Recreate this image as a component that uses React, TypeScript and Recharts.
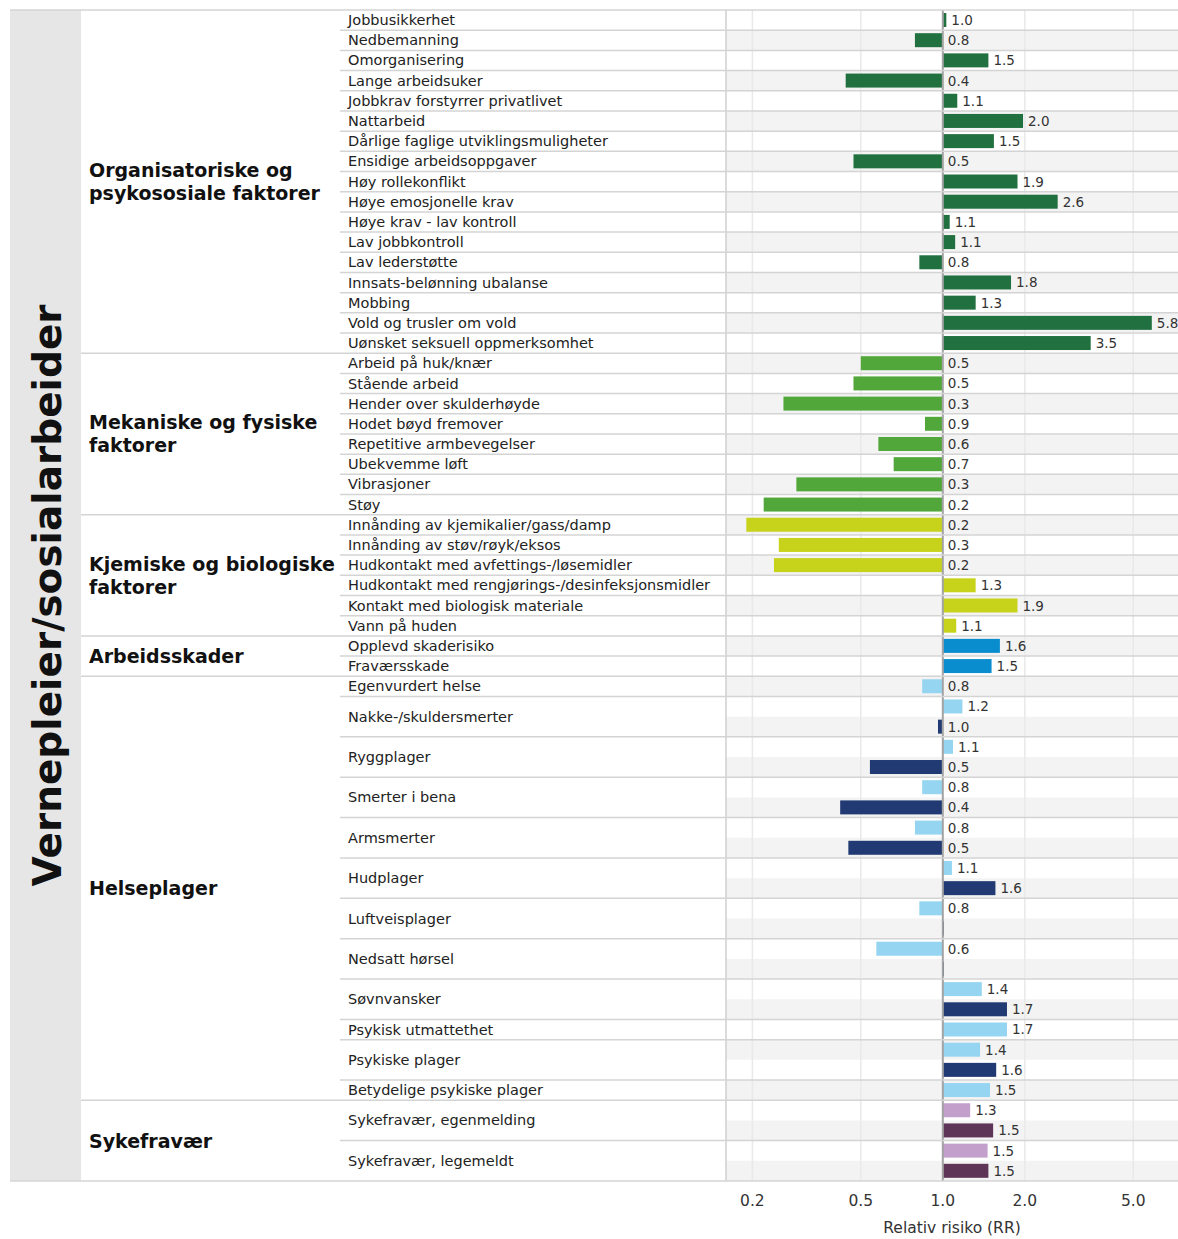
import React from 'react';
import { BarChart, Bar, XAxis, YAxis, ReferenceArea, ReferenceLine } from 'recharts';

// Group headings (split into lines as in the original)
const groupTitles = [
    ['Organisatoriske og', 'psykososiale faktorer'],
    ['Mekaniske og fysiske', 'faktorer'],
    ['Kjemiske og biologiske', 'faktorer'],
    ['Arbeidsskader'],
    ['Helseplager'],
    ['Sykefravær'],
];

const orgLabels = [
    'Jobbusikkerhet', 'Nedbemanning', 'Omorganisering', 'Lange arbeidsuker',
    'Jobbkrav forstyrrer privatlivet', 'Nattarbeid', 'Dårlige faglige utviklingsmuligheter',
    'Ensidige arbeidsoppgaver', 'Høy rollekonflikt', 'Høye emosjonelle krav',
    'Høye krav - lav kontroll', 'Lav jobbkontroll', 'Lav lederstøtte',
    'Innsats-belønning ubalanse', 'Mobbing', 'Vold og trusler om vold',
    'Uønsket seksuell oppmerksomhet',
];
const orgRR = [1.03, 0.79, 1.47, 0.44, 1.13, 1.97, 1.54, 0.47, 1.88, 2.64, 1.06, 1.11, 0.82, 1.78, 1.32, 5.85, 3.49];

const mekLabels = [
    'Arbeid på huk/knær', 'Stående arbeid', 'Hender over skulderhøyde', 'Hodet bøyd fremover',
    'Repetitive armbevegelser', 'Ubekvemme løft', 'Vibrasjoner', 'Støy',
];
const mekRR = [0.5, 0.47, 0.26, 0.86, 0.58, 0.66, 0.29, 0.22];

const kjemLabels = [
    'Innånding av kjemikalier/gass/damp', 'Innånding av støv/røyk/eksos',
    'Hudkontakt med avfettings-/løsemidler', 'Hudkontakt med rengjørings-/desinfeksjonsmidler',
    'Kontakt med biologisk materiale', 'Vann på huden',
];
const kjemRR = [0.19, 0.25, 0.24, 1.32, 1.88, 1.12];

const skadeLabels = ['Opplevd skaderisiko', 'Fraværsskade'];
const skadeRR = [1.62, 1.51];

const helseLabels = [
    'Egenvurdert helse', 'Nakke-/skuldersmerter', 'Ryggplager', 'Smerter i bena', 'Armsmerter',
    'Hudplager', 'Luftveisplager', 'Nedsatt hørsel', 'Søvnvansker', 'Psykisk utmattethet',
    'Psykiske plager', 'Betydelige psykiske plager',
];
const helseRR = [0.84, 1.18, 1.09, 0.84, 0.79, 1.08, 0.82, 0.57, 1.39, 1.72, 1.37, 1.49];
const helseRR2 = [null, 0.96, 0.54, 0.42, 0.45, 1.56, 1.01, 1.01, 1.72, null, 1.57, null];

const sykLabels = ['Sykefravær, egenmelding', 'Sykefravær, legemeldt'];
const sykRR = [1.26, 1.46];
const sykRR2 = [1.53, 1.47];

// second bars shown without a printed value
const noValueLabel = ['Luftveisplager', 'Nedsatt hørsel'];

const xTicks = [0.2, 0.5, 1, 2, 5];

const colors = ['#21703f', '#52a73a', '#c7d31a', '#0a8dce', '#95d5f1', '#c3a0cb'];
const colors2 = ['#21703f', '#52a73a', '#c7d31a', '#0a8dce', '#213a73', '#5e3556'];

// Layout
const W = 1178;
const H = 1239;
const TOP = 10;
const AXIS_H = 58;
const PLOT_LEFT = 726;
const PLOT_H = H - TOP - AXIS_H;
const FONT = '"DejaVu Sans", Verdana, sans-serif';
const LINE = '#d4d4d4';

interface Row {
    key: string;
    label: string;
    index: number;
    group: number;
    firstOfItem: boolean;
    firstOfGroup: boolean;
    groupRows: number;
    pair: boolean;
    value: number;
    range: [number, number];
    color: string;
    showValue: boolean;
}

const groupData = [
    { labels: orgLabels, a: orgRR, b: null as (number | null)[] | null },
    { labels: mekLabels, a: mekRR, b: null },
    { labels: kjemLabels, a: kjemRR, b: null },
    { labels: skadeLabels, a: skadeRR, b: null },
    { labels: helseLabels, a: helseRR, b: helseRR2 },
    { labels: sykLabels, a: sykRR, b: sykRR2 },
];

const rows: Row[] = [];
groupData.forEach((g, gi) => {
    const start = rows.length;
    g.labels.forEach((label, i) => {
        const second = g.b ? g.b[i] : null;
        const pair = second !== null && second !== undefined;
        const push = (v: number, color: string, first: boolean, showValue: boolean) => {
            rows.push({
                key: `${gi}-${i}-${first ? 'a' : 'b'}`,
                label,
                index: rows.length,
                group: gi,
                firstOfItem: first,
                firstOfGroup: first && i === 0,
                groupRows: 0,
                pair,
                value: v,
                range: v < 1 ? [v, 1] : [1, v],
                color,
                showValue,
            });
        };
        push(g.a[i], colors[gi], true, true);
        if (pair) push(second as number, colors2[gi], false, !noValueLabel.includes(label));
    });
    rows[start].groupRows = rows.length - start;
});

const BAND = PLOT_H / rows.length;
const rowByKey: Record<string, Row> = {};
rows.forEach((r) => { rowByKey[r.key] = r; });

const RowTick = (props: any) => {
    const { y, payload } = props;
    const row = rowByKey[payload?.value];
    if (!row) return null;
    const top = y - BAND / 2;
    return (
        <g>
            {row.index === 0 && (
                <g>
                    <rect x={10} y={top} width={71} height={PLOT_H} fill="#e6e6e6" />
                    <line x1={10} x2={W} y1={top} y2={top} stroke={LINE} strokeWidth={1.5} />
                    <text
                        transform={`translate(47, ${top + PLOT_H / 2}) rotate(-90)`}
                        textAnchor="middle"
                        dominantBaseline="central"
                        fontSize={39}
                        fontWeight="bold"
                        fill="#111"
                    >
                        Vernepleier/sosialarbeider
                    </text>
                </g>
            )}
            {row.index > 0 && row.firstOfItem && (
                <line x1={row.firstOfGroup ? 81 : 340} x2={W} y1={top} y2={top} stroke={LINE} strokeWidth={1.5} />
            )}
            {row.index === rows.length - 1 && (
                <line x1={10} x2={W} y1={top + BAND} y2={top + BAND} stroke={LINE} strokeWidth={1.5} />
            )}
            {row.firstOfGroup && (
                <text x={89} y={top + (row.groupRows * BAND) / 2} fontSize={19} fontWeight="bold" fill="#111">
                    {groupTitles[row.group].map((t, i, arr) => (
                        <tspan key={i} x={89} dy={i === 0 ? (-(arr.length - 1) * 23) / 2 + 7 : 23}>
                            {t}
                        </tspan>
                    ))}
                </text>
            )}
            {row.firstOfItem && (
                <text x={348} y={y + (row.pair ? BAND / 2 : 0)} dominantBaseline="central" fontSize={14.5} fill="#222">
                    {row.label}
                </text>
            )}
        </g>
    );
};

const BarShape = (props: any) => {
    const { x, y, width, height, payload } = props;
    const w = Math.max(width || 0, 0);
    return (
        <g>
            <rect x={x} y={y} width={w} height={height} fill={payload.color} />
            {payload.showValue && (
                <text x={x + w + 5} y={y + height / 2} dominantBaseline="central" fontSize={13.5} fill="#333">
                    {payload.value.toFixed(1)}
                </text>
            )}
        </g>
    );
};

const App: React.FC = () => {
    return (
        <div style={{ position: 'absolute', left: 0, top: 0, background: '#fff' }}>
            <BarChart
                width={W}
                height={H}
                data={rows}
                layout="vertical"
                margin={{ top: TOP, right: 0, bottom: 0, left: 0 }}
                barSize={14}
                style={{ fontFamily: FONT }}
            >
                {rows.filter((r) => r.index % 2 === 1).map((r) => (
                    <ReferenceArea
                        key={`bg-${r.key}`}
                        y1={r.key}
                        y2={r.key}
                        fill="#f3f3f3"
                        fillOpacity={1}
                        stroke="none"
                        ifOverflow="visible"
                        zIndex={100}
                    />
                ))}
                {xTicks.filter((t) => t !== 1).map((t) => (
                    <ReferenceLine key={`g-${t}`} x={t} stroke="#e9e9e9" strokeWidth={1.5} zIndex={150} />
                ))}
                <XAxis
                    type="number"
                    scale="log"
                    domain={[0.16, 7.3]}
                    allowDataOverflow
                    ticks={xTicks}
                    interval={0}
                    tickFormatter={(v: number) => v.toFixed(1)}
                    axisLine={false}
                    tickLine={false}
                    tickMargin={8}
                    height={AXIS_H}
                    tick={{ fontSize: 15.5, fill: '#333' }}
                    label={{ value: 'Relativ risiko (RR)', position: 'insideBottom', offset: 6, fontSize: 15.5, fill: '#333' }}
                />
                <YAxis
                    type="category"
                    dataKey="key"
                    width={PLOT_LEFT}
                    interval={0}
                    tick={<RowTick />}
                    tickLine={false}
                    axisLine={{ stroke: '#cfcfcf', strokeWidth: 1.5 }}
                />
                <Bar dataKey="range" isAnimationActive={false} shape={<BarShape />} />
                <ReferenceLine x={1} stroke="#a3a3a3" strokeWidth={2} />
            </BarChart>
        </div>
    );
};

export default App;
